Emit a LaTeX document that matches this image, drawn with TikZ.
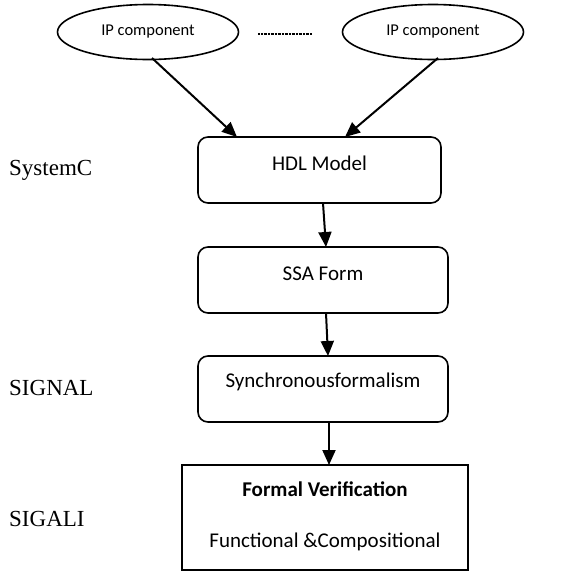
\documentclass[tikz,border=0pt]{standalone}
\usepackage{fontspec}
\setmainfont{Liberation Serif}
\newfontfamily\boxfont{Carlito}
\usetikzlibrary{arrows.meta,shapes.geometric}
\tikzset{
  x=1pt,y=-1pt,
  rbox/.style={draw,line width=1.6pt,rounded corners=10pt},
  sbox/.style={draw,line width=1.3pt},
  ipell/.style={draw,line width=1.6pt,ellipse,minimum width=181pt,minimum height=55pt,inner sep=0pt,font=\boxfont\fontsize{16.5}{18}\selectfont},
  boxtxt/.style={font=\boxfont\fontsize{21}{24}\selectfont,inner sep=0pt},
  sidelbl/.style={font=\fontsize{23}{26}\selectfont,anchor=west,inner sep=0pt},
  conn/.style={line width=2pt,-{Triangle[length=15pt,width=13pt]}},
}
\begin{document}
\begin{tikzpicture}
\useasboundingbox (0,0) rectangle (569,571);
% ellipses
\node[ipell] (ip1) at (148,32) {IP component};
\node[ipell] (ip2) at (433,32) {IP component};
\coordinate (dl) at (258,34);
\coordinate (dr) at (312,34);
\draw[line width=1.4pt,dash pattern=on 0.7pt off 0.7pt] (dl) -- (dr);
% boxes
\draw[rbox] (198,137) rectangle (441,203);
\coordinate (hdlT1) at (237,137);
\coordinate (hdlT2) at (345,137);
\node[boxtxt] (hdl) at (319.5,163) {HDL Model};
\draw[rbox] (198,247) rectangle (448,313);
\node[boxtxt] (ssa) at (323,274) {SSA Form};
\draw[rbox] (198,356) rectangle (448,422);
\node[boxtxt] (syn) at (323,382) {Synchronousformalism};
\draw[sbox] (182,465) rectangle (468,570);
\node[boxtxt,font=\boxfont\bfseries\fontsize{21}{24}\selectfont] (fv) at (325,489) {Formal Verification};
\node[boxtxt] (fc) at (325,542) {Functional \&Compositional};
% anchor coordinates
\coordinate (hdlB) at (323,203);
\coordinate (ssaT) at (326,247);
\coordinate (ssaB) at (326,313);
\coordinate (synT) at (328,356);
\coordinate (synB) at (329,422);
\coordinate (fvT) at (329,465);
\coordinate (ip1s) at (152,58);
\coordinate (ip2s) at (438,58);
% connectors
\draw[conn] (ip1s) -- (hdlT1);
\draw[conn] (ip2s) -- (hdlT2);
\draw[conn] (hdlB) -- (ssaT);
\draw[conn] (ssaB) -- (synT);
\draw[conn] (synB) -- (fvT);
% side labels
\node[sidelbl] (sc) at (9,170) {SystemC};
\node[sidelbl] (sg) at (9,388) {SIGNAL};
\node[sidelbl] (sa) at (9,519) {SIGALI};
\end{tikzpicture}
\end{document}
